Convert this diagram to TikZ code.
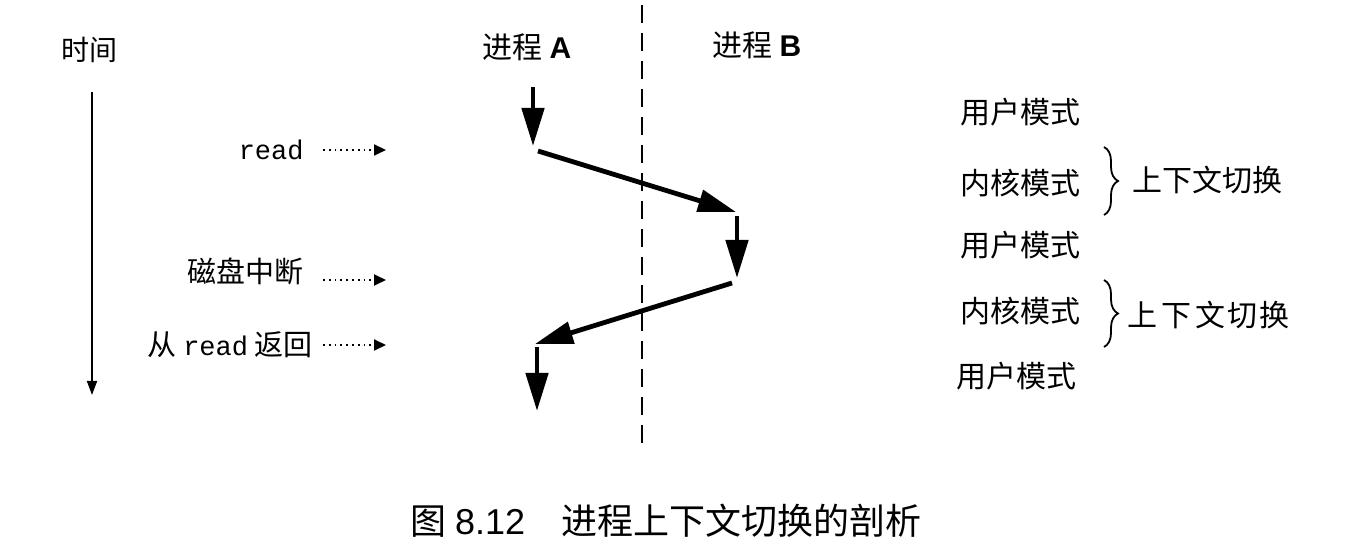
\documentclass[tikz,border=0pt]{standalone}
\usepackage{fontspec}
\newfontfamily\cjk{Noto Sans CJK SC}
\setmonofont{Liberation Mono}
\setsansfont{Liberation Sans}
\usetikzlibrary{arrows.meta,decorations.pathreplacing}
\begin{document}
\begin{tikzpicture}[x=0.5pt,y=-0.5pt,
  lbl/.style={font=\cjk\fontsize{14.5}{16}\selectfont, inner sep=0pt},
  rlbl/.style={font=\cjk\fontsize{15}{17}\selectfont, inner sep=0pt},
  flow/.style={line width=2.4pt, -{Triangle[length=19pt,width=11pt]}},
  hint/.style={line width=0.9pt, dotted, -{Triangle[length=6pt,width=5.5pt]}},
  tline/.style={line width=0.9pt, -{Triangle[length=7pt,width=5pt]}},
  brc/.style={decorate, decoration={brace, amplitude=7pt}, line width=0.9pt}]
\useasboundingbox (0,0) rectangle (1352,560);
% time axis
\node[lbl, font=\cjk\fontsize{14}{16}\selectfont] (time) at (89,50) {时间};
\coordinate (t0) at (92,92);
\coordinate (t1) at (92,395);
\draw[tline] (t0) -- (t1);
% process headers
\node[lbl, font=\cjk\fontsize{15}{17}\selectfont] (pa) at (527,47) {进程 \textsf{\bfseries A}};
\node[lbl, font=\cjk\fontsize{15}{17}\selectfont] (pb) at (757,45) {进程 \textsf{\bfseries B}};
% divider
\coordinate (d0) at (642,5);
\coordinate (d1) at (642,445);
\draw[line width=1.2pt, dash pattern=on 9pt off 5pt] (d0) -- (d1);
% flow
\coordinate (a0) at (533,87);
\coordinate (a1) at (533,146);
\coordinate (a2) at (538,151);
\coordinate (b0) at (736,212);
\coordinate (b1) at (737,216);
\coordinate (b2) at (737,278);
\coordinate (b3) at (732,283);
\coordinate (c0) at (535,344);
\coordinate (c1) at (537,347);
\coordinate (c2) at (537,411);
\draw[flow] (a0) -- (a1);
\draw[flow] (a2) -- (b0);
\draw[flow] (b1) -- (b2);
\draw[flow] (b3) -- (c0);
\draw[flow] (c1) -- (c2);
% left labels
\node[lbl, anchor=east] (rd) at (304,150) {\ttfamily\fontsize{13.5}{16}\selectfont read};
\node[lbl, anchor=east] (irq) at (304,271) {磁盘中断};
\node[lbl, anchor=east] (ret) at (313,345) {从 {\ttfamily\fontsize{13.5}{16}\selectfont read} 返回};
\coordinate (h1) at (386,150);
\coordinate (h2) at (386,280);
\coordinate (h3) at (386,345);
\draw[hint] (323,150) -- (h1);
\draw[hint] (323,280) -- (h2);
\draw[hint] (323,345) -- (h3);
% right labels
\node[rlbl] (u1) at (1020,112) {用户模式};
\node[rlbl] (k1) at (1020,183) {内核模式};
\node[rlbl] (u2) at (1020,245) {用户模式};
\node[rlbl] (k2) at (1020,311) {内核模式};
\node[rlbl] (u3) at (1016,376) {用户模式};
\coordinate (br1t) at (1104,147);
\coordinate (br1b) at (1104,215);
\coordinate (br2t) at (1104,280);
\coordinate (br2b) at (1104,347);
\draw[brc] (br1t) -- (br1b);
\draw[brc] (br2t) -- (br2b);
\node[rlbl, anchor=west] (cs1) at (1132,180) {上下文切换};
\node[rlbl, anchor=west] (cs2) at (1127,315) {上\kern2pt 下\kern2pt 文\kern1pt 切\kern1pt 换};
% caption
\node[lbl, font=\cjk\fontsize{18}{21}\selectfont] (cap) at (666,521) {图 \textsf{8.12}\quad 进程上下文切换的剖析};
\end{tikzpicture}
\end{document}
